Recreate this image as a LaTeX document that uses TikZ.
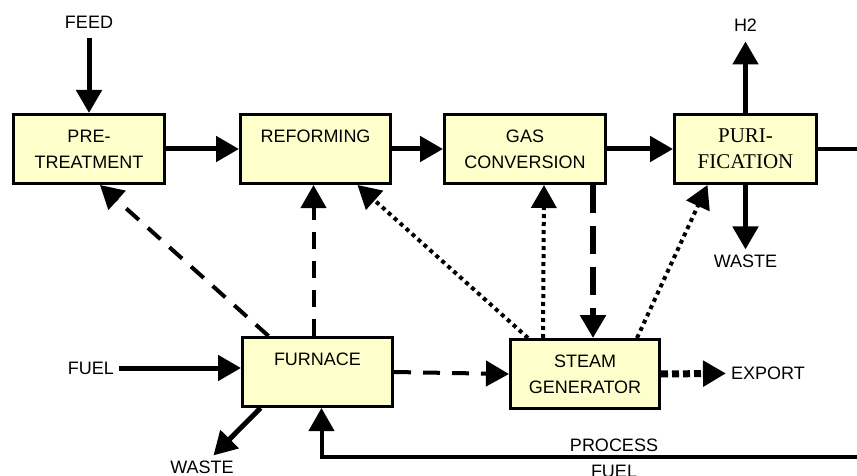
\documentclass[tikz,border=0pt]{standalone}
\usepackage{fontspec}
\setmainfont{Liberation Sans}
\newfontfamily\serifface{Liberation Serif}
\usetikzlibrary{arrows.meta}
\definecolor{boxfill}{HTML}{FFFFCC}

\begin{document}
\begin{tikzpicture}[x=1pt,y=-1pt,
  unit/.style={draw, line width=3pt, fill=boxfill, minimum height=69pt, inner sep=0pt, align=center, font=\fontsize{18}{26}\selectfont},
  lbl/.style={inner sep=5pt, align=center, font=\fontsize{18}{26}\selectfont},
  tip/.style={-{Triangle[length=23pt,width=25pt]}},
  solidflow/.style={tip, line width=5pt},
  fuelflow/.style={tip, line width=4pt},
  dashflow/.style={tip, line width=4pt, dash pattern=on 17pt off 12pt},
  bigdash/.style={tip, line width=6pt, dash pattern=on 28pt off 13pt},
  dotflow/.style={tip, line width=4pt, dash pattern=on 4pt off 4pt},
  bigdot/.style={tip, line width=7pt, dash pattern=on 7pt off 4pt}]
\useasboundingbox (0,0) rectangle (857,476);
\clip (0,0) rectangle (857,476);

\node[unit, minimum width=151pt] (pre) at (89,149) {PRE-\\TREATMENT};
\node[unit, minimum width=150pt] (ref) at (315.5,149) {REFORMING\\~};
\node[unit, minimum width=161pt] (gas) at (525,149) {GAS\\CONVERSION};
\node[unit, minimum width=142pt, font=\serifface\fontsize{21}{26}\selectfont] (puri) at (745.5,149) {PURI-\\FICATION};
\node[unit, minimum width=150pt] (furnace) at (317.5,372) {FURNACE\\~};
\node[unit, minimum width=149pt] (steam) at (585,374) {STEAM\\GENERATOR};

\node[lbl] (feed) at (89,22) {FEED};
\node[lbl] (h2) at (745.5,25) {H2};
\node[lbl] (pwaste) at (745.5,261) {WASTE};
\node[lbl] (fuel) at (91,368) {FUEL};
\node[lbl] (fwaste) at (202,467) {WASTE};
\node[lbl] (export) at (768,373) {EXPORT};
\node[lbl, inner sep=0pt] (pfuel) at (614,458) {PROCESS\\FUEL};
\coordinate (loop) at (880,457);

\draw[solidflow, shorten <=5pt] (feed) -- (pre);
\draw[solidflow] (pre) -- (ref);
\draw[solidflow] (ref) -- (gas);
\draw[solidflow] (gas) -- (puri);
\draw[solidflow, shorten >=5pt] (puri) -- (h2);
\draw[solidflow] (puri) -- (pwaste);
\draw[solidflow] (fuel) -- (fuel -| furnace.west);
\draw[solidflow] ([xshift=-57pt]furnace.south) -- (fwaste);
\draw[fuelflow] (puri.east) -| (loop) -| ([xshift=4pt]furnace.south);

\draw[dashflow] ([xshift=-49pt]furnace.north) -- ([xshift=11pt]pre.south);
\draw[dashflow] ([xshift=-4pt]furnace.north) -- ([xshift=-2pt]ref.south);
\draw[dashflow] (furnace.east) -- (steam.west);
\draw[bigdash] ([xshift=68pt]gas.south) -- ([xshift=8pt]steam.north);

\draw[dotflow] ([xshift=-57pt]steam.north) -- ([xshift=42pt]ref.south);
\draw[dotflow] ([xshift=-42pt]steam.north) -- ([xshift=19pt]gas.south);
\draw[dotflow] ([xshift=52pt]steam.north) -- ([xshift=-38pt]puri.south);
\draw[bigdot] (steam.east) -- (export);
\end{tikzpicture}
\end{document}
